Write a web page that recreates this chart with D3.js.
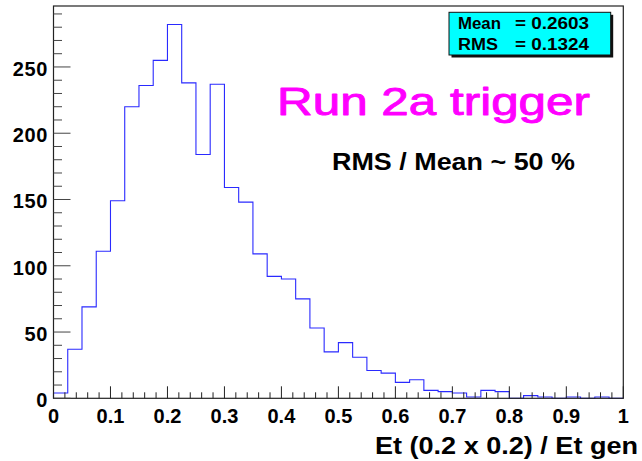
<!DOCTYPE html>
<html>
<head>
<meta charset="utf-8">
<script src="https://cdn.jsdelivr.net/npm/d3@7"></script>
<style>
  html, body { margin: 0; padding: 0; background: #fff; }
  svg { display: block; }
  text { font-family: "Liberation Sans", Arial, Helvetica, sans-serif; }
</style>
</head>
<body>
<svg id="chart" width="642" height="461"></svg>
<script>
// ---- data ----
const xRange = [0, 1];
const counts = [4, 37, 69, 111, 149, 220, 236, 255, 282, 238,
                184, 237, 159, 148, 109, 92, 90, 75, 53, 35,
                42, 31, 21, 19, 12, 14, 6, 5, 4, 1,
                6, 5, 0, 2, 1, 0, 1, 0, 1, 0];
const yMax = 296;
const xTickLabels = [0, 0.1, 0.2, 0.3, 0.4, 0.5, 0.6, 0.7, 0.8, 0.9, 1];
const yTickLabels = [0, 50, 100, 150, 200, 250];
const statNames = ["Mean", "RMS"];
const statValues = ["= 0.2603", "= 0.1324"];
const titleText = "Run 2a trigger";
const noteText = "RMS / Mean ~ 50 %";
const xTitle = "Et (0.2 x 0.2) / Et gen";

// ---- layout ----
const W = 642, H = 461;
const L = 53.5, R = 623.3, T = 6, B = 398.3;

const svg = d3.select("#chart");
const x = d3.scaleLinear().domain(xRange).range([L, R]);
const y = d3.scaleLinear().domain([0, yMax]).range([B, T]);

// histogram outline
const n = counts.length;
const bw = (xRange[1] - xRange[0]) / n;
let p = d3.path();
p.moveTo(x(xRange[0]), y(0));
counts.forEach((c, i) => {
  const x0 = x(xRange[0] + i * bw), x1 = x(xRange[0] + (i + 1) * bw);
  p.lineTo(x0, y(c));
  p.lineTo(x1, y(c));
});
p.lineTo(x(xRange[1]), y(0));
svg.append("path")
  .attr("d", p.toString())
  .attr("fill", "none")
  .attr("stroke", "#2a2aff")
  .attr("stroke-width", 1.1);

// frame
svg.append("rect")
  .attr("x", L).attr("y", T)
  .attr("width", R - L).attr("height", B - T)
  .attr("fill", "none")
  .attr("stroke", "#222")
  .attr("stroke-width", 1.2);

// x axis ticks (inside)
const xMinor = d3.range(0, 51).map(i => i * 0.02);
const gx = svg.append("g");
gx.selectAll("line.minor").data(xMinor).enter().append("line")
  .attr("x1", d => x(d)).attr("x2", d => x(d))
  .attr("y1", B).attr("y2", (d, i) => i % 5 === 0 ? B - 12 : B - 6)
  .attr("stroke", "#222").attr("stroke-width", 1);
gx.selectAll("text").data(xTickLabels).enter().append("text")
  .attr("x", d => x(d)).attr("y", 423)
  .attr("text-anchor", "middle")
  .attr("font-size", 20).attr("font-weight", "bold")
  .text(d => d3.format("")(d));

// y axis ticks (inside)
const yMinor = d3.range(0, 30).map(i => i * 10);
const gy = svg.append("g");
gy.selectAll("line").data(yMinor).enter().append("line")
  .attr("x1", L).attr("x2", (d, i) => i % 5 === 0 ? L + 17 : L + 8.5)
  .attr("y1", d => y(d)).attr("y2", d => y(d))
  .attr("stroke", "#444").attr("stroke-width", 1);
gy.selectAll("text").data(yTickLabels).enter().append("text")
  .attr("x", 48).attr("y", d => y(d) + 9)
  .attr("text-anchor", "end")
  .attr("font-size", 20).attr("font-weight", "bold")
  .attr("letter-spacing", 0.6)
  .text(d => d);

// x axis title
svg.append("text")
  .attr("x", 638).attr("y", 454)
  .attr("text-anchor", "end")
  .attr("font-size", 24).attr("font-weight", "bold")
  .attr("textLength", 263).attr("lengthAdjust", "spacingAndGlyphs")
  .text(xTitle);

// stats box
const bx = 449, by = 12.3, bwid = 161.7, bht = 42.7;
svg.append("rect").attr("x", bx + 2.5).attr("y", by + 2.5)
  .attr("width", bwid).attr("height", bht).attr("fill", "#111");
svg.append("rect").attr("x", bx).attr("y", by)
  .attr("width", bwid).attr("height", bht)
  .attr("fill", "#00ffff").attr("stroke", "#111").attr("stroke-width", 1);
const nameW = [43, 40];
statNames.forEach((s, i) => {
  svg.append("text").attr("x", 458).attr("y", 29 + i * 21)
    .attr("font-size", 16).attr("font-weight", "bold")
    .attr("textLength", nameW[i]).attr("lengthAdjust", "spacingAndGlyphs")
    .text(s);
  svg.append("text").attr("x", 515).attr("y", 29 + i * 21)
    .attr("font-size", 16).attr("font-weight", "bold")
    .attr("textLength", 74).attr("lengthAdjust", "spacingAndGlyphs")
    .text(statValues[i]);
});

// title
svg.append("text")
  .attr("x", 277).attr("y", 115)
  .attr("font-family", "'Comic Sans MS', 'Open Sans', 'Noto Sans', sans-serif")
  .attr("font-size", 38)
  .attr("fill", "#ff00ff")
  .attr("stroke", "#ff00ff").attr("stroke-width", 0.9)
  .attr("stroke-linejoin", "round")
  .attr("textLength", 313).attr("lengthAdjust", "spacingAndGlyphs")
  .text(titleText);

// note
svg.append("text")
  .attr("x", 332).attr("y", 170)
  .attr("font-size", 23).attr("font-weight", "bold")
  .attr("textLength", 243).attr("lengthAdjust", "spacingAndGlyphs")
  .text(noteText);
</script>
</body>
</html>
